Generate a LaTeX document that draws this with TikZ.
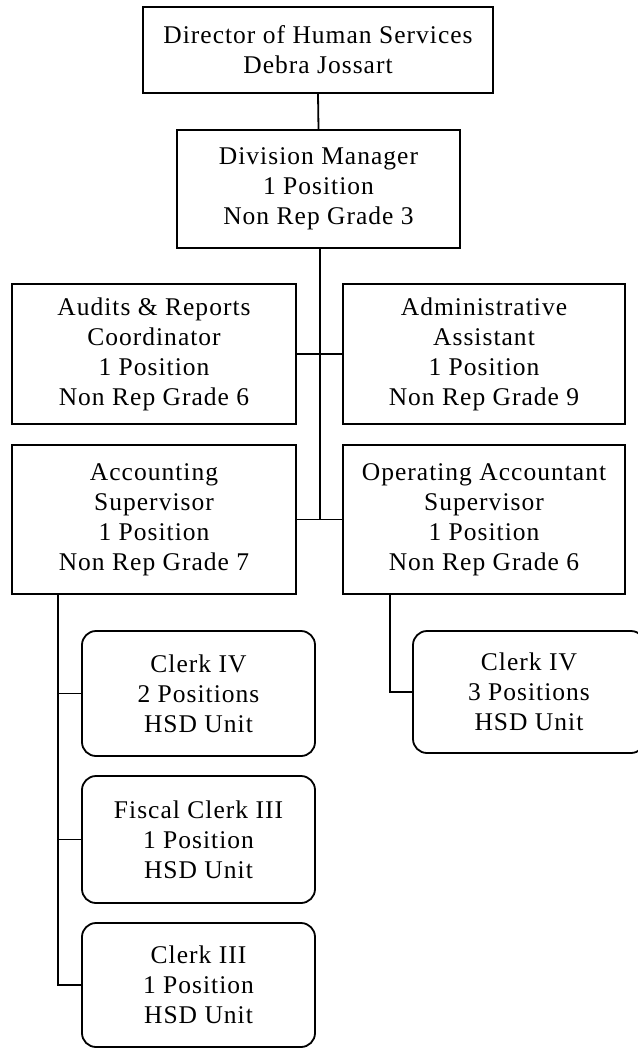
\documentclass[tikz,border=0pt]{standalone}
\usepackage{fontspec}
\setmainfont{Liberation Serif}[LetterSpace=4]
\begin{document}
\begin{tikzpicture}[x=1pt,y=-1pt,line width=1.8pt,
  box/.style={draw,rectangle,inner sep=0pt,align=center,
    font=\fontsize{25.5}{30}\selectfont},
  unit/.style={box,rounded corners=14pt},
  link/.style={line width=1.8pt}]
\useasboundingbox (0,0) rectangle (637,1049);

% management chain
\node[box,minimum width=350,minimum height=86] (dir) at (318,50)
  {Director of Human Services\\Debra Jossart};
\node[box,minimum width=283,minimum height=118] (div) at (318.5,189)
  {Division Manager\\1 Position\\Non Rep Grade 3};

% staff reporting to the division manager
\node[box,minimum width=284,minimum height=140] (aud) at (154,354)
  {Audits \& Reports\\Coordinator\\1 Position\\Non Rep Grade 6};
\node[box,minimum width=282,minimum height=140] (adm) at (484,354)
  {Administrative\\Assistant\\1 Position\\Non Rep Grade 9};
\node[box,minimum width=284,minimum height=149] (acc) at (154,519.5)
  {Accounting\\Supervisor\\1 Position\\Non Rep Grade 7};
\node[box,minimum width=282,minimum height=149] (opr) at (484,519.5)
  {Operating Accountant\\Supervisor\\1 Position\\Non Rep Grade 6};

% clerical units
\node[unit,minimum width=233,minimum height=125] (clkA) at (198.5,693.5)
  {Clerk IV\\2 Positions\\HSD Unit};
\node[unit,minimum width=233,minimum height=127] (fis) at (198.5,839.5)
  {Fiscal Clerk III\\1 Position\\HSD Unit};
\node[unit,minimum width=233,minimum height=124] (clkC) at (198.5,985)
  {Clerk III\\1 Position\\HSD Unit};
\node[unit,minimum width=232,minimum height=122] (clkB) at (529,692)
  {Clerk IV\\3 Positions\\HSD Unit};

% connectors
\draw[link] (dir.south) -- (div.north);
\draw[link] ([xshift=1.5pt]div.south) -- ([xshift=1.5pt]div.south |- acc.east);
\draw[link] (aud.east) -- (adm.west);
\draw[link] (acc.east) -- (opr.west);
\draw[link] ([xshift=47pt]acc.south west) |- (clkC.west);
\draw[link] (clkA.west) -- ++(-23,0);
\draw[link] (fis.west) -- ++(-23,0);
\draw[link] ([xshift=48pt]opr.south west) |- (clkB.west);
\end{tikzpicture}
\end{document}
